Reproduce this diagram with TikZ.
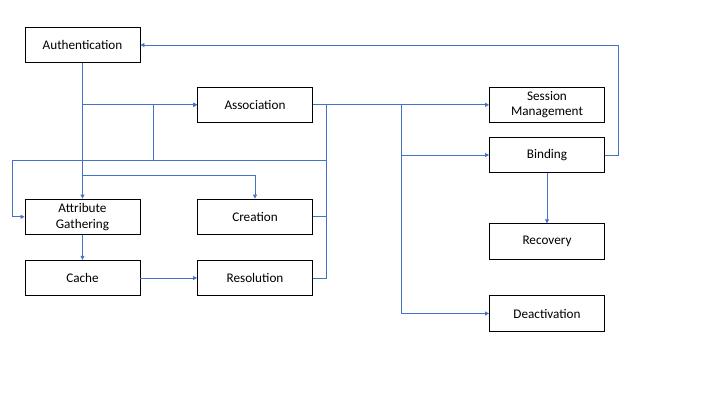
\documentclass[tikz,border=0pt]{standalone}
\usepackage{fontspec}
\setmainfont{Carlito}
\usetikzlibrary{arrows.meta}
\definecolor{lnk}{HTML}{4472C4}
\begin{document}
\begin{tikzpicture}[x=1pt,y=-1pt,
  box/.style={draw=black,line width=0.9pt,minimum width=115pt,minimum height=35.5pt,inner sep=1pt,align=center,font=\fontsize{13.2}{15.5}\selectfont},
  conn/.style={draw=lnk,line width=0.8pt},
  arr/.style={conn,-{Triangle[length=4pt,width=4pt]}}]
\useasboundingbox (0,0) rectangle (720,405);
\node[box] (auth) at (82.5,45) {Authentication};
\node[box] (assoc) at (255,104.8) {Association};
\node[box] (attr) at (82.5,216.8) {Attribute\\Gathering};
\node[box] (crea) at (255,216.8) {Creation};
\node[box] (cache) at (82.5,278) {Cache};
\node[box] (reso) at (255,278) {Resolution};
\node[box] (sess) at (547,104.8) {Session\\Management};
\node[box] (bind) at (547,155) {Binding};
\node[box] (reco) at (547,241.5) {Recovery};
\node[box] (deac) at (547,313.5) {Deactivation};
% Authentication branches
\draw[arr] (auth.south) -- (attr.north);
\draw[arr] (auth.south) |- (assoc.west);
\draw[arr] (auth.south) |- (82.5,175) -| (crea.north);
% feedback loops
\draw[arr] (assoc.east) -| (326,160) -| (12,216.8) -- (attr.west);
\draw[arr] (crea.east) -| (326,160) -| (153,104.8) -- (assoc.west);
\draw[arr] (reso.east) -| (326,160) -| (153,104.8) -- (assoc.west);
% lower left
\draw[arr] (attr.south) -- (cache.north);
\draw[arr] (cache.east) -- (reso.west);
% right side
\draw[arr] (assoc.east) -- (sess.west);
\draw[arr] (assoc.east) -| (401,155) -- (bind.west);
\draw[arr] (assoc.east) -| (401,313.5) -- (deac.west);
\draw[arr] (bind.south) -- (reco.north);
\draw[arr] (bind.east) -| (618,45) -- (auth.east);
\end{tikzpicture}
\end{document}
